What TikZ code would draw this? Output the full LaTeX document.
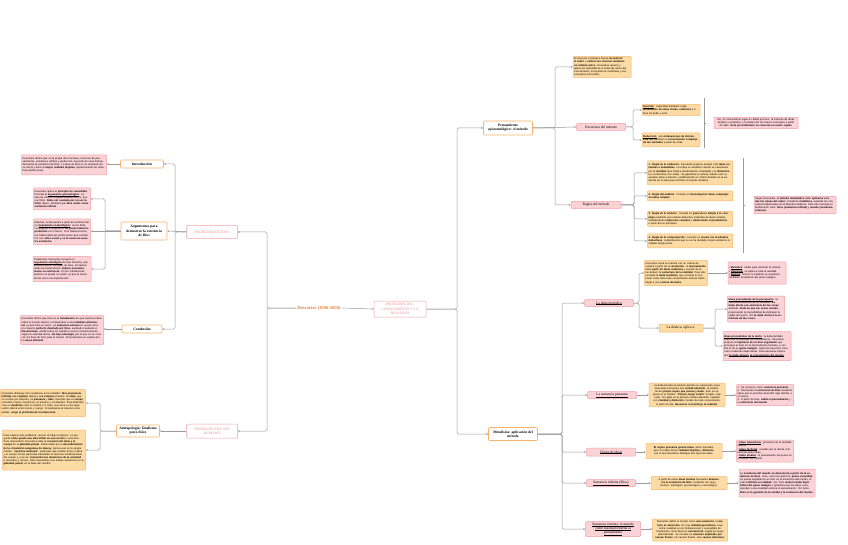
\documentclass[tikz,border=0pt]{standalone}
\usepackage{fontspec}
\setmainfont{Liberation Serif}
\newfontfamily\boxfont{Liberation Sans}
\newcommand\ulx[1]{\leavevmode\vtop{\hbox{#1}\kern0.2pt\hrule height0.15pt}}
\usetikzlibrary{arrows.meta,calc}
\definecolor{ofill}{HTML}{FDDBA5}
\definecolor{oline}{HTML}{F7B46A}
\definecolor{pfill}{HTML}{FBD2D5}
\definecolor{pline}{HTML}{F2A0A7}
\definecolor{ptext}{HTML}{EE8A92}
\definecolor{conn}{HTML}{9B9B9B}
\definecolor{dorange}{HTML}{E67A2E}
\tikzset{
 txt/.style={font=\boxfont\fontsize{2.6}{3.15}\selectfont, align=left, inner sep=1.2pt, rounded corners=0.8pt, line width=0.5pt},
 obox/.style={txt, fill=ofill, draw=oline},
 pbox/.style={txt, fill=pfill, draw=pline},
 olab/.style={font=\fontsize{3.6}{4.2}\selectfont\bfseries, align=center, draw=oline, fill=white, line width=0.6pt, rounded corners=1pt, inner sep=1.2pt},
 oflab/.style={font=\fontsize{3.6}{4.2}\selectfont, align=center, draw=oline, fill=ofill, line width=0.5pt, rounded corners=1pt, inner sep=1.2pt},
 plab/.style={font=\fontsize{3.6}{4.2}\selectfont, align=center, draw=pline, fill=pfill, line width=0.5pt, rounded corners=1pt, inner sep=1.2pt},
 prob/.style={font=\fontsize{3.6}{4.2}\selectfont, text=ptext, align=center, draw=pline, fill=white, line width=0.5pt, rounded corners=1pt, inner sep=1.2pt},
 arr/.style={draw=conn, line width=0.5pt, -{Stealth[length=2pt,width=1.8pt]}, rounded corners=1.5pt},
 ln/.style={draw=conn, line width=0.5pt, rounded corners=1.5pt},
}
\begin{document}
\begin{tikzpicture}[x=1pt,y=-1pt]
\useasboundingbox (0,0) rectangle (848,545);
% junction coordinates
\coordinate (jl) at (267,0);
\coordinate (jd) at (175,0);
\coordinate (ja) at (105,0);
\coordinate (jh) at (100,0);
\coordinate (jr) at (457,0);
\coordinate (jp) at (555,0);
\coordinate (je) at (633,0);
\coordinate (jg) at (634,0);
\coordinate (jm) at (562,0);
\coordinate (jdu) at (639,0);
\coordinate (jap) at (715,0);

% ===== centre
\node[font=\fontsize{4.6}{5}\selectfont\bfseries, text=dorange, inner sep=1pt] (desc) at (319,308) {Descartes (1596-1650)};
\node[prob, minimum width=52, minimum height=16] (pcon) at (400,309) {PROBLEMA DEL\\CONOCIMIENTO Y LA\\REALIDAD};
\node[prob, minimum width=51, minimum height=13] (pdios) at (212,232) {PROBLEMA DE DIOS};
\node[prob, minimum width=51, minimum height=14] (pser) at (212,431) {PROBLEMA DEL SER\\HUMANO};

% ===== left: Dios
\node[olab, minimum width=43, minimum height=8] (intro) at (142,164) {Introducción};
\node[olab, minimum width=46, minimum height=18] (argu) at (144,231) {Argumentos para\\demostrar la existencia\\de Dios};
\node[olab, minimum width=40, minimum height=8] (concl) at (142,329) {Conclusión};
\node[pbox, text width=82.6, minimum height=20] (introT) at (64,165) {Descartes afirma que en la propia obra humana, como las de pensamientos, existencia, arbitrio y perfección, la puede de esas formas, demostrar la existencia de Dios. La idea de Dios es un elemento de su teoría y tiene la \textbf{mayor realidad objetiva}, representando las máximas perfecciones.};
\node[pbox, text width=54.6, minimum height=22] (a1) at (62,199) {Descartes aplica el \textbf{principio de causalidad}. Formula el \ulx{\textbf{argumento gnoseológico}}: La idea de infinito no puede provenir de mí, que soy finito. \textbf{Debe ser causada por un ser infinito} (Dios). Afirmará que \textbf{Dios existe como sustancia infinita}.};
\node[pbox, text width=54.6, minimum height=26] (a2) at (62,232) {Además, la demuestra a partir de la finitud del yo (\ulx{\textbf{argumento cosmológico}}): al ser finito, contingente e imperfecto, \textbf{no puede haberme producido} a mí mismo. Si lo hubiera hecho, me habría dado las perfecciones que concibo. Por eso, \textbf{Dios existe y es la causa de nuestra existencia}.};
\node[pbox, text width=55.6, minimum height=25] (a3) at (62,269) {Finalmente, Descartes recupera el \ulx{\textbf{argumento ontológico}} de San Anselmo, que sostiene que el concepto de Dios, al implicar todas las perfecciones, \textbf{implica necesariamente su existencia}. Un ser infinitamente perfecto no puede no existir, ya que la inexistencia sería una imperfección.};
\node[pbox, text width=80.6, minimum height=29] (conclT) at (62,330) {Descartes afirma que Dios es el \textbf{fundamento} de que nuestras ideas sobre el mundo exterior correspondan a una \textbf{realidad extramental}, ya que Dios es veraz. La \textbf{sustancia extensa} se revela como un conjunto \textbf{perfecto diseñado por Dios}, explicado mediante el \textbf{Mecanicismo}, donde todos los cambios ocurren mecánicamente según la voluntad divina. \textbf{No hay teleología}, por lo que no se conocen los fines de Dios para el mundo. El movimiento se explica por la \textbf{causa eficiente}.};

% ===== left: ser humano
\node[olab, minimum width=43, minimum height=12] (antro) at (138,431) {Antropología: Dualismo\\psico-físico};
\node[obox, text width=82.6, minimum height=27] (h1) at (43,403) {Descartes distingue tres sustancias en la realidad: \textbf{Dios (sustancia infinita)}, \textbf{res cogitans} (alma) y \textbf{res extensa} (mundo). El \textbf{alma}, que se conoce por intuición, es \textbf{pensante} y \textbf{libre}, mientras que el \textbf{cuerpo}, sometido a leyes mecánicas, es extenso y sin libertad. Esta distinción crea un \textbf{dualismo} entre lo mental y lo físico, que lleva a una separación radical entre mente y cuerpo. Al plantearse la relación entre ambas, \textbf{surge el problema de la interacción}.};
\node[obox, text width=80.6, minimum height=40] (h2) at (44,450) {Para superar este problema, recurre al influjo recíproco: se pregunta \textbf{cómo puede una idea influir en una acción} o viceversa. Para responderlo, Descartes sitúa la \textbf{conexión del alma y el cuerpo} en la \textbf{glándula pineal}. Influenciado por el \textbf{descubrimiento de la circulación sanguínea de Harvey}, piensa que en la sangre existen \textbf{``espíritus animales''}, partículas que median entre el alma y el cuerpo. Estas partículas transmiten al alma las modificaciones del cuerpo y, a la vez, \textbf{transmiten las decisiones de la voluntad} a músculos y nervios. Este mecanismo une ambas sustancias en la \textbf{glándula pineal}, en la base del cerebro.};

% ===== right: método
\node[olab, minimum width=49, minimum height=14] (pens) at (508,128) {Pensamiento\\epistemológico: el método};
\node[obox, text width=55.6, minimum height=21] (top) at (602,67) {El proyecto cartesiano busca \textbf{reconstruir el saber} y \textbf{unificar las ciencias mediante un método único}. Descartes aprecia y aplica las matemáticas a todas las áreas del conocimiento, incluyendo la metafísica y sus conceptos esenciales.};
\node[plab, minimum width=49, minimum height=7] (estr) at (601,127) {Estructura del método};
\node[obox, text width=55.6, minimum height=11] (intu) at (671,110) {\ulx{\textbf{Intuición}}: capacidad mediante el \textbf{entendimiento de ideas claras, evidentes} y libres de duda o error.};
\node[obox, text width=55.6, minimum height=14] (dedu) at (671,140) {\ulx{\textbf{Deducción}}: son \textbf{ordenaciones de inferencias} que permiten el \textbf{conocimiento complejo de las verdades} a partir de otras.};
\node[pbox, align=center, text width=81.6, minimum height=11] (rb1) at (756,123) {Así, el conocimiento sigue un doble proceso: la intuición de ideas simples y evidentes, y la deducción de nuevos conceptos a partir de ellas. \textbf{Este procedimiento se concreta en cuatro reglas}.};
\node[plab, minimum width=50, minimum height=7] (regl) at (596,205) {Reglas del método};
\node[obox, text width=82.6, minimum height=24] (r1) at (690,173) {\textbf{1. Regla de la evidencia}: Descartes propone aceptar solo \textbf{ideas evidentes e indudables}. Una idea es evidente cuando se caracteriza por la \textbf{claridad} (que implica manifestación inmediata) y la \textbf{distinción} (no confundirse con otras). Se garantiza la certeza cuando solo se aceptan ideas evidentes, estableciendo un criterio basado en la evidencia de la idea para eliminar conceptos dudosos.};
\node[obox, text width=82.6, minimum height=10] (r2) at (690,196) {\textbf{2. Regla del análisis}: consiste en \textbf{descomponer ideas complejas en ideas simples}.};
\node[obox, text width=82.6, minimum height=15] (r3) at (690,219) {\textbf{3. Regla de la síntesis}: consiste en \textbf{pasar de lo simple a lo complejo} mediante una cadena deductiva ordenada de ideas simples, estableciendo \textbf{relaciones causales} y \textbf{deduciendo conocimientos} a partir de los principios.};
\node[obox, text width=82.6, minimum height=14] (r4) at (690,241) {\textbf{4. Regla de la comprobación}: consiste en \textbf{revisar los resultados deductivos}, comprobando que no se ha olvidado ningún elemento ni saltado ningún paso.};
\node[pbox, text width=79.6, minimum height=14] (rb2) at (795,205) {Según Descartes, el \textbf{método matemático} debe \textbf{aplicarse a todas las ramas del saber}, incluida la \textbf{metafísica}, evitando los conceptos tradicionales de la filosofía medieval. Para ello necesita un fundamento claro: \textbf{Dios (sustancia infinita)} y \textbf{mundo (sustancia extensa)}.};

% ===== right: metafísica
\node[olab, minimum width=49, minimum height=13] (meta) at (513,434) {Metafísica: aplicación del\\método};
\node[plab, minimum width=49, minimum height=7] (duda) at (609,303) {\ulx{La duda metódica}};
\node[obox, text width=60.6, minimum height=25] (dudaO) at (676,273) {Descartes inicia su método con un criterio de certeza a partir de la \textbf{resolución}: el \textbf{razonamiento} debe \textbf{partir de ideas evidentes} y a partir de ellas deducir la \textbf{estructura de la realidad}. Para ello, necesita la \textbf{duda metódica}, que consiste en rechazar como falso todo conocimiento dudoso hasta llegar a una \textbf{certeza absoluta}.};
\node[pbox, text width=55.6, minimum height=22] (dudaP) at (757,273) {• \ulx{\textbf{Metódica}}: medio para alcanzar la certeza.\\ • \ulx{\textbf{Universal}}: se aplica a toda la realidad.\\ • \ulx{\textbf{Radical}}: incluso lo evidente se cuestiona mediante la hipótesis del genio maligno.};
\node[oflab, minimum width=44, minimum height=8] (apl) at (681,328) {La duda se aplica a:};
\node[pbox, text width=54.6, minimum height=26] (pa) at (756,309) {\ulx{\textbf{Ideas procedentes de la percepción}}: se duda del testimonio de los sentidos. \textbf{La duda afecta a la existencia de las cosas}. Además, \textbf{duda de que las cosas existan}, proponiendo la imposibilidad de distinguir la vigilia del sueño. Así \textbf{la duda afecta a la existencia de las cosas}.};
\node[pbox, text width=65.6, minimum height=29] (pb) at (757,346) {\ulx{\textbf{Ideas procedentes de la razón}}: la duda también cuestiona la fiabilidad del razonamiento. Descartes propone la \textbf{hipótesis de un dios engañador} que provoque el error en el razonamiento humano, y con ello la de un \textbf{genio maligno}, capaz de hacernos creer como evidentes ideas falsas. Esta amenaza implica que \ulx{\textbf{la duda alcanza}} \ulx{\textbf{al conocimiento del mundo}}.};

\node[plab, minimum width=49, minimum height=7] (spens) at (612,395) {\ulx{La sustancia pensante}};
\node[obox, align=center, text width=73.6, minimum height=23] (spO) at (687,395) {La duda llevada al extremo permite su superación, pues Descartes encuentra una \textbf{verdad absoluta}: la existencia del \textbf{propio sujeto que piensa y duda}. Esto se expresa en el célebre \textbf{``Pienso, luego existo''} (Cogito, ergo sum). El cogito es la primera certeza absoluta, captada con \textbf{claridad y distinción}, modelo de todo conocimiento. A partir de ella, \textbf{Descartes reconstruye la realidad}.};
\node[pbox, text width=54.6, minimum height=21] (spP) at (765,395) {1. Se reconoce como \textbf{sustancia pensante}.\\ 2. Demuestra la \textbf{existencia de Dios} mediante ideas que le permiten descubrir algo distinto a sí mismo.\\ 3. A partir de Dios, \textbf{valida el pensamiento} y la \textbf{existencia del mundo}.};

\node[plab, minimum width=49, minimum height=8] (ideas) at (611,452) {\ulx{Clases de ideas}};
\node[obox, align=center, text width=73.6, minimum height=15] (idO) at (684,451) {\textbf{El sujeto pensante genera ideas}, actos mentales, pero no todas tienen \textbf{realidad objetiva} y \textbf{diferente}, por lo que Descartes distingue tres tipos de ideas.};
\node[pbox, text width=54.6, minimum height=22] (idP) at (765,451) {• \ulx{\textbf{Ideas adventicias}}: provienen de la realidad exterior.\\ • \ulx{\textbf{Ideas facticias}}: creadas por la mente combinando otras ideas.\\ • \ulx{\textbf{Ideas innatas}}: el pensamiento las posee en sí mismo. Ej: infinito.};

\node[plab, minimum width=49, minimum height=7] (sinf) at (611,483) {\ulx{Sustancia infinita (Dios)}};
\node[obox, align=center, text width=73.6, minimum height=13] (siO) at (689,483) {A partir de estas \textbf{ideas innatas} Descartes \textbf{demuestra la existencia de Dios}, mediante tres argumentos: ontológico, gnoseológico y cosmológico.};
\node[pbox, text width=73.6, minimum height=28] (siP) at (777,483) {La \textbf{existencia del mundo se demostrará a partir de la existencia de Dios}. Dios, como ser perfecto, \textbf{posee veracidad}, no puede engañarnos al creer en la existencia del mundo, lo cual \textbf{confirma su realidad}. Así, Dios \textbf{anula la duda hiperbólica del genio maligno} y garantiza que las ideas corresponden a una realidad externa al pensamiento. Por tanto, \textbf{Dios es la garantía de la verdad y la existencia del mundo}.};

\node[plab, minimum width=55, minimum height=15] (sext) at (613,529) {\ulx{Sustancia extensa: el mundo}\\\ulx{como realidad externa al}\\\ulx{pensamiento}};
\node[obox, align=center, text width=72.6, minimum height=22] (seO) at (690,530) {Descartes define el mundo como \textbf{una sustancia}: la \textbf{materia es extensión}. Es una \textbf{realidad geométrica}, cuya única cualidad es ser tridimensional y susceptible de movimiento. Esta física es \textbf{mecanicista}, regida por leyes deterministas. Se concibe un \textbf{universo explicado por causas físicas}, sin causas finales, solo \textbf{causas eficientes}.};

% ===== connectors
\draw[arr] (desc.east) -- (pcon.west);
\draw[arr] (desc.west) -- (desc.west -| jl) |- (pdios.east);
\draw[arr] (desc.west) -- (desc.west -| jl) |- (pser.east);
\draw[arr] (pdios.west) -- (argu.east);
\draw[arr] (pdios.west) -- (pdios.west -| jd) |- (intro.east);
\draw[arr] (pdios.west) -- (pdios.west -| jd) |- (concl.east);
\draw[arr] (argu.west) -- (a2.east |- argu.west);
\draw[arr] (argu.west) -- (argu.west -| ja) |- (a1.east);
\draw[arr] (argu.west) -- (argu.west -| ja) |- (a3.east);
\draw[arr] (intro.west) -- (introT.east |- intro.west);
\draw[arr] (concl.west) -- (conclT.east |- concl.west);
\draw[arr] (pser.west) -- (antro.east);
\draw[arr] (antro.west) -- (antro.west -| jh) |- (h1.east);
\draw[arr] (antro.west) -- (antro.west -| jh) |- (h2.east);

\draw[arr] (pcon.east) -- (pcon.east -| jr) |- (pens.west);
\draw[arr] (pcon.east) -- (pcon.east -| jr) |- (meta.west);
\draw[arr] (pens.east) -- (pens.east -| jp) |- (top.west);
\draw[arr] (pens.east) -- (estr.west);
\draw[arr] (pens.east) -- (pens.east -| jp) |- (regl.west);
\draw[arr] (estr.east) -- (estr.east -| je) |- (intu.west);
\draw[arr] (estr.east) -- (estr.east -| je) |- (dedu.west);
\foreach \r in {r1,r2,r3,r4} \draw[arr] (regl.east) -- (regl.east -| jg) |- (\r.west);

\draw[arr] (meta.east) -- (meta.east -| jm) |- (duda.west);
\foreach \r in {spens,ideas,sinf,sext} \draw[arr] (meta.east) -- (meta.east -| jm) |- (\r.west);
\draw[arr] (duda.east) -- (duda.east -| jdu) |- (dudaO.west);
\draw[arr] (duda.east) -- (duda.east -| jdu) |- (apl.west);
\draw[arr] (dudaO.east) -- (dudaP.west |- dudaO.east);
\draw[arr] (apl.east) -- (apl.east -| jap) |- (pa.west);
\draw[arr] (apl.east) -- (apl.east -| jap) |- (pb.west);
\draw[arr] (spens.east) -- (spO.west |- spens.east);
\draw[arr] (spO.east) -- (spP.west |- spO.east);
\draw[arr] (ideas.east) -- (idO.west |- ideas.east);
\draw[arr] (idO.east) -- (idP.west |- idO.east);
\draw[arr] (sinf.east) -- (siO.west |- sinf.east);
\draw[arr] (siO.east) -- (siP.west |- siO.east);
\draw[arr] (sext.east) -- (seO.west |- sext.east);

% brackets
\coordinate (b1t) at (704,98);
\coordinate (b1b) at (704,148);
\draw[ln] (b1t) -- (b1b);
\draw[ln] ($(b1t)!0.5!(b1b)$) -- ++(1.5,0);
\coordinate (b2t) at (743,158);
\coordinate (b2b) at (743,253);
\draw[ln] (b2t) -- (b2b);
\draw[ln] ($(b2t)!0.5!(b2b)$) -- ++(1.5,0);
\end{tikzpicture}
\end{document}
